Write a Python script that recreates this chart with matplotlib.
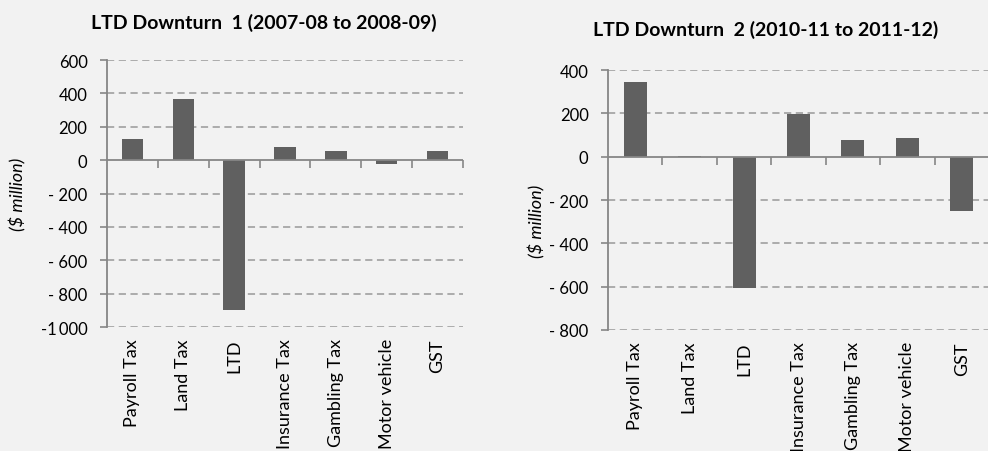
import numpy as np
import matplotlib.pyplot as plt
from matplotlib.markers import TICKDOWN

plt.rcParams['font.family'] = ['Lato', 'DejaVu Sans']

categories = ['Payroll Tax', 'Land Tax', 'LTD', 'Insurance Tax',
              'Gambling Tax', 'Motor vehicle', 'GST']

# change in revenue, $ million
downturn1 = [125, 368, -898, 78, 55, -25, 55]
downturn2 = [343, 3, -605, 197, 77, 88, -250]

title1 = 'LTD Downturn  1 (2007-08 to 2008-09)'
title2 = 'LTD Downturn  2 (2010-11 to 2011-12)'

ticks1 = [600, 400, 200, 0, -200, -400, -600, -800, -1000]
ticks2 = [400, 200, 0, -200, -400, -600, -800]

BG = '#f2f2f2'
BAR = '#606060'
GRID = '#a6a6a6'
AXIS = '#868686'


def fmt(v):
    if v == -1000:
        return '-1\u2009000'
    if v < 0:
        return '- ' + str(-v)
    return str(v)


def draw(ax, values, ticks):
    n = len(categories)
    x = np.arange(n)
    lo, hi = min(ticks), max(ticks)
    ax.set_facecolor(BG)
    ax.bar(x, values, width=0.42, color=BAR, zorder=3)
    ax.set_xlim(-0.5, n - 0.5)
    ax.set_ylim(lo, hi)

    # dashed grid, zero line drawn solid
    for t in ticks:
        if t != 0:
            ax.axhline(t, color=GRID, lw=1.3, ls=(0, (4, 2.5)), zorder=1)
    ax.axhline(0, color=AXIS, lw=1.3, zorder=4)

    # category boundary ticks hanging from the zero line
    bounds = np.arange(n) + 0.5
    ax.plot(bounds, np.zeros(n), ls='none', marker=TICKDOWN, ms=6,
            mew=1.2, color=AXIS, zorder=4, clip_on=False)

    ax.set_yticks(ticks)
    ax.set_yticklabels([fmt(t) for t in ticks])
    ax.tick_params(axis='y', length=5, width=1.2, color=AXIS, labelsize=12,
                   pad=9)

    ax.set_xticks(x)
    ax.set_xticklabels(categories, rotation=90, fontsize=13, va='top')
    ax.tick_params(axis='x', length=0, pad=8)

    for s in ['top', 'right', 'bottom']:
        ax.spines[s].set_visible(False)
    ax.spines['left'].set_color(AXIS)
    ax.spines['left'].set_linewidth(1.3)

    ax.set_ylabel('($ million)', fontstyle='italic', fontsize=13)


fig = plt.figure(figsize=(9.88, 4.52), dpi=100, facecolor=BG)

ax1 = fig.add_axes([0.1083, 0.2743, 0.3603, 0.5907])
draw(ax1, downturn1, ticks1)
ax1.yaxis.set_label_coords(-0.225, 0.5)

ax2 = fig.add_axes([0.6154, 0.2677, 0.3856, 0.5752])
draw(ax2, downturn2, ticks2)
ax2.yaxis.set_label_coords(-0.165, 0.42)

fig.text(264 / 988, 1 - 23 / 452, title1, fontweight='bold', fontsize=14,
         ha='center', va='center')
fig.text(766 / 988, 1 - 30 / 452, title2, fontweight='bold', fontsize=14,
         ha='center', va='center')

fig.savefig('out.png', dpi=100, facecolor=BG)
